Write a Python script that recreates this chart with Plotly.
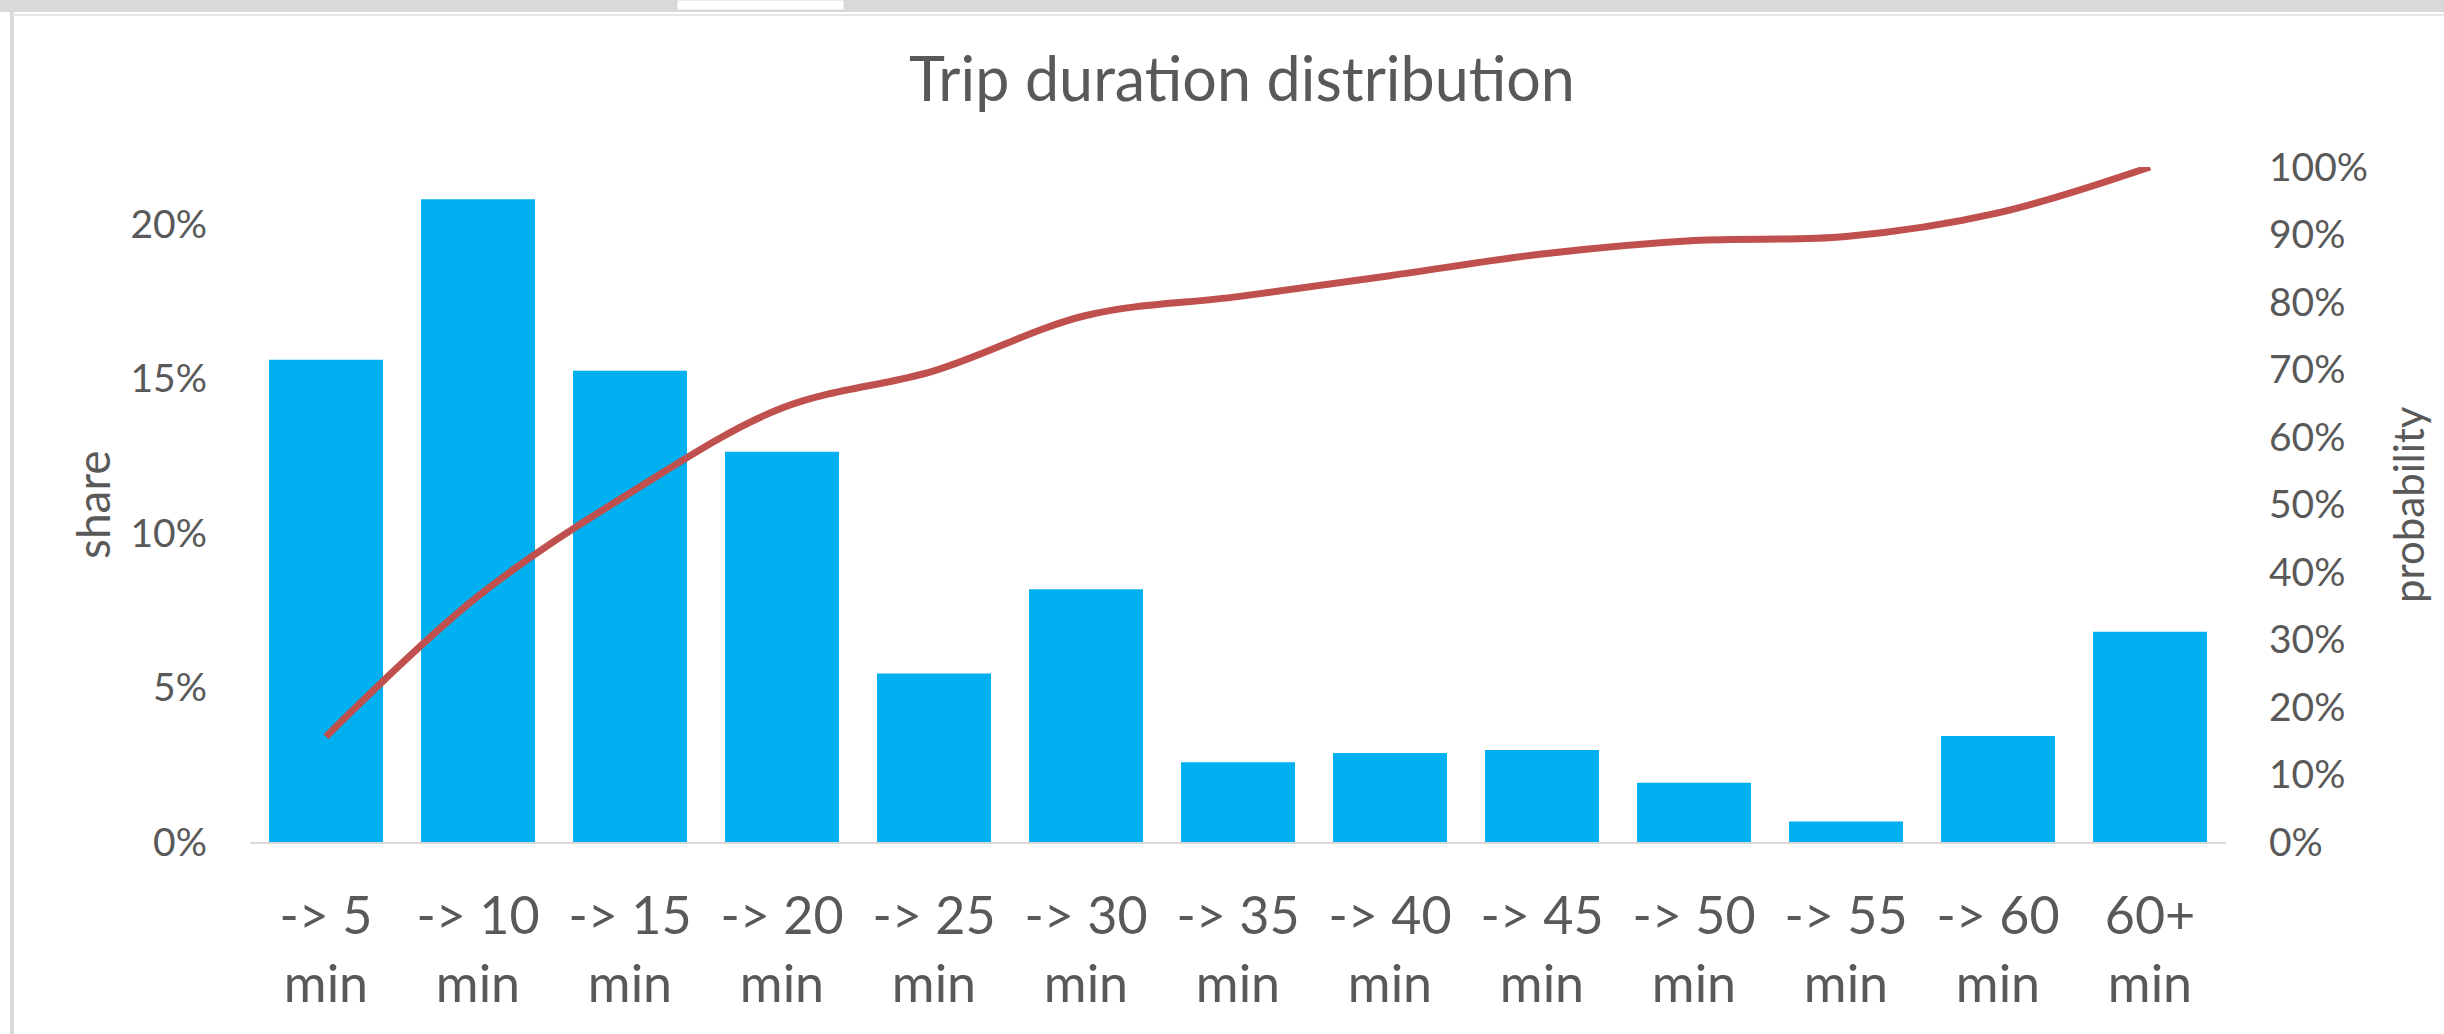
import plotly.graph_objects as go

categories = ["-> 5<br>min", "-> 10<br>min", "-> 15<br>min", "-> 20<br>min", "-> 25<br>min",
              "-> 30<br>min", "-> 35<br>min", "-> 40<br>min", "-> 45<br>min", "-> 50<br>min",
              "-> 55<br>min", "-> 60<br>min", "60+<br>min"]
share = [0.156, 0.208, 0.1525, 0.1263, 0.0545, 0.0818, 0.0258, 0.0288, 0.0298, 0.0192, 0.0066, 0.0343, 0.068]
probability = [0.156, 0.364, 0.517, 0.643, 0.698, 0.780, 0.808, 0.839, 0.871, 0.891, 0.897, 0.932, 1.0]
left_ticks = [0, 0.05, 0.10, 0.15, 0.20]
right_ticks = [0, 0.1, 0.2, 0.3, 0.4, 0.5, 0.6, 0.7, 0.8, 0.9, 1.0]

W, H = 2444, 1034
L, R, T, B = 250, 218, 167, 192
pw, ph = W - L - R, H - T - B

def px(x):
    return (x - L) / pw

def py(y):
    return (H - B - y) / ph

FONT = "Lato, 'Open Sans', sans-serif"
GREY = "#595959"

fig = go.Figure()
fig.add_trace(go.Bar(x=categories, y=share, marker=dict(color="#00B0F0", line=dict(width=0)),
                     name="share", yaxis="y"))
fig.add_trace(go.Scatter(x=categories, y=probability, mode="lines",
                         line=dict(color="#C0504D", width=7, shape="spline", smoothing=1),
                         name="probability", yaxis="y2"))

fig.update_layout(
    width=W, height=H,
    margin=dict(l=L, r=R, t=T, b=B),
    paper_bgcolor="white", plot_bgcolor="white",
    showlegend=False,
    bargap=0.25,
    font=dict(family=FONT, color=GREY),
    xaxis=dict(showgrid=False, showline=True, linecolor="#D9D9D9", linewidth=2,
               ticks="", tickfont=dict(size=52, color=GREY), ticklabelstandoff=28,
               zeroline=False),
    yaxis=dict(range=[0, 0.2184], tickvals=left_ticks, tickformat=".0%",
               showgrid=False, zeroline=False, showline=False, ticks="",
               tickfont=dict(size=39, color=GREY), ticklabelstandoff=42),
    yaxis2=dict(range=[0, 1.0], tickvals=right_ticks, tickformat=".0%", overlaying="y",
                side="right", showgrid=False, zeroline=False, showline=False, ticks="",
                tickfont=dict(size=39, color=GREY), ticklabelstandoff=42),
    annotations=[
        dict(text="Trip duration distribution", x=px(1242), y=py(78), xref="paper", yref="paper",
             showarrow=False, font=dict(size=61, color=GREY, family=FONT),
             xanchor="center", yanchor="middle"),
        dict(text="share", x=px(92), y=py(505), xref="paper", yref="paper", textangle=-90,
             showarrow=False, font=dict(size=46, color=GREY, family=FONT),
             xanchor="center", yanchor="middle"),
        dict(text="probability", x=px(2408), y=py(505), xref="paper", yref="paper", textangle=-90,
             showarrow=False, font=dict(size=42, color=GREY, family=FONT),
             xanchor="center", yanchor="middle"),
    ],
    shapes=[
        dict(type="rect", xref="paper", yref="paper", x0=px(0), x1=px(W), y0=py(0), y1=py(12),
             fillcolor="#D9D9D9", line=dict(width=0), layer="above"),
        dict(type="rect", xref="paper", yref="paper", x0=px(677), x1=px(844), y0=py(0), y1=py(10),
             fillcolor="white", line=dict(color="#D9D9D9", width=1), layer="above"),
        dict(type="line", xref="paper", yref="paper", x0=px(12), x1=px(12), y0=py(12), y1=py(H),
             line=dict(color="#D9D9D9", width=4)),
        dict(type="line", xref="paper", yref="paper", x0=px(12), x1=px(W), y0=py(15), y1=py(15),
             line=dict(color="#E6E6E6", width=2)),
    ],
)

fig.write_html("out.html", config={"displayModeBar": False},
               post_script="document.body.style.margin='0';document.body.style.overflow='hidden';")
